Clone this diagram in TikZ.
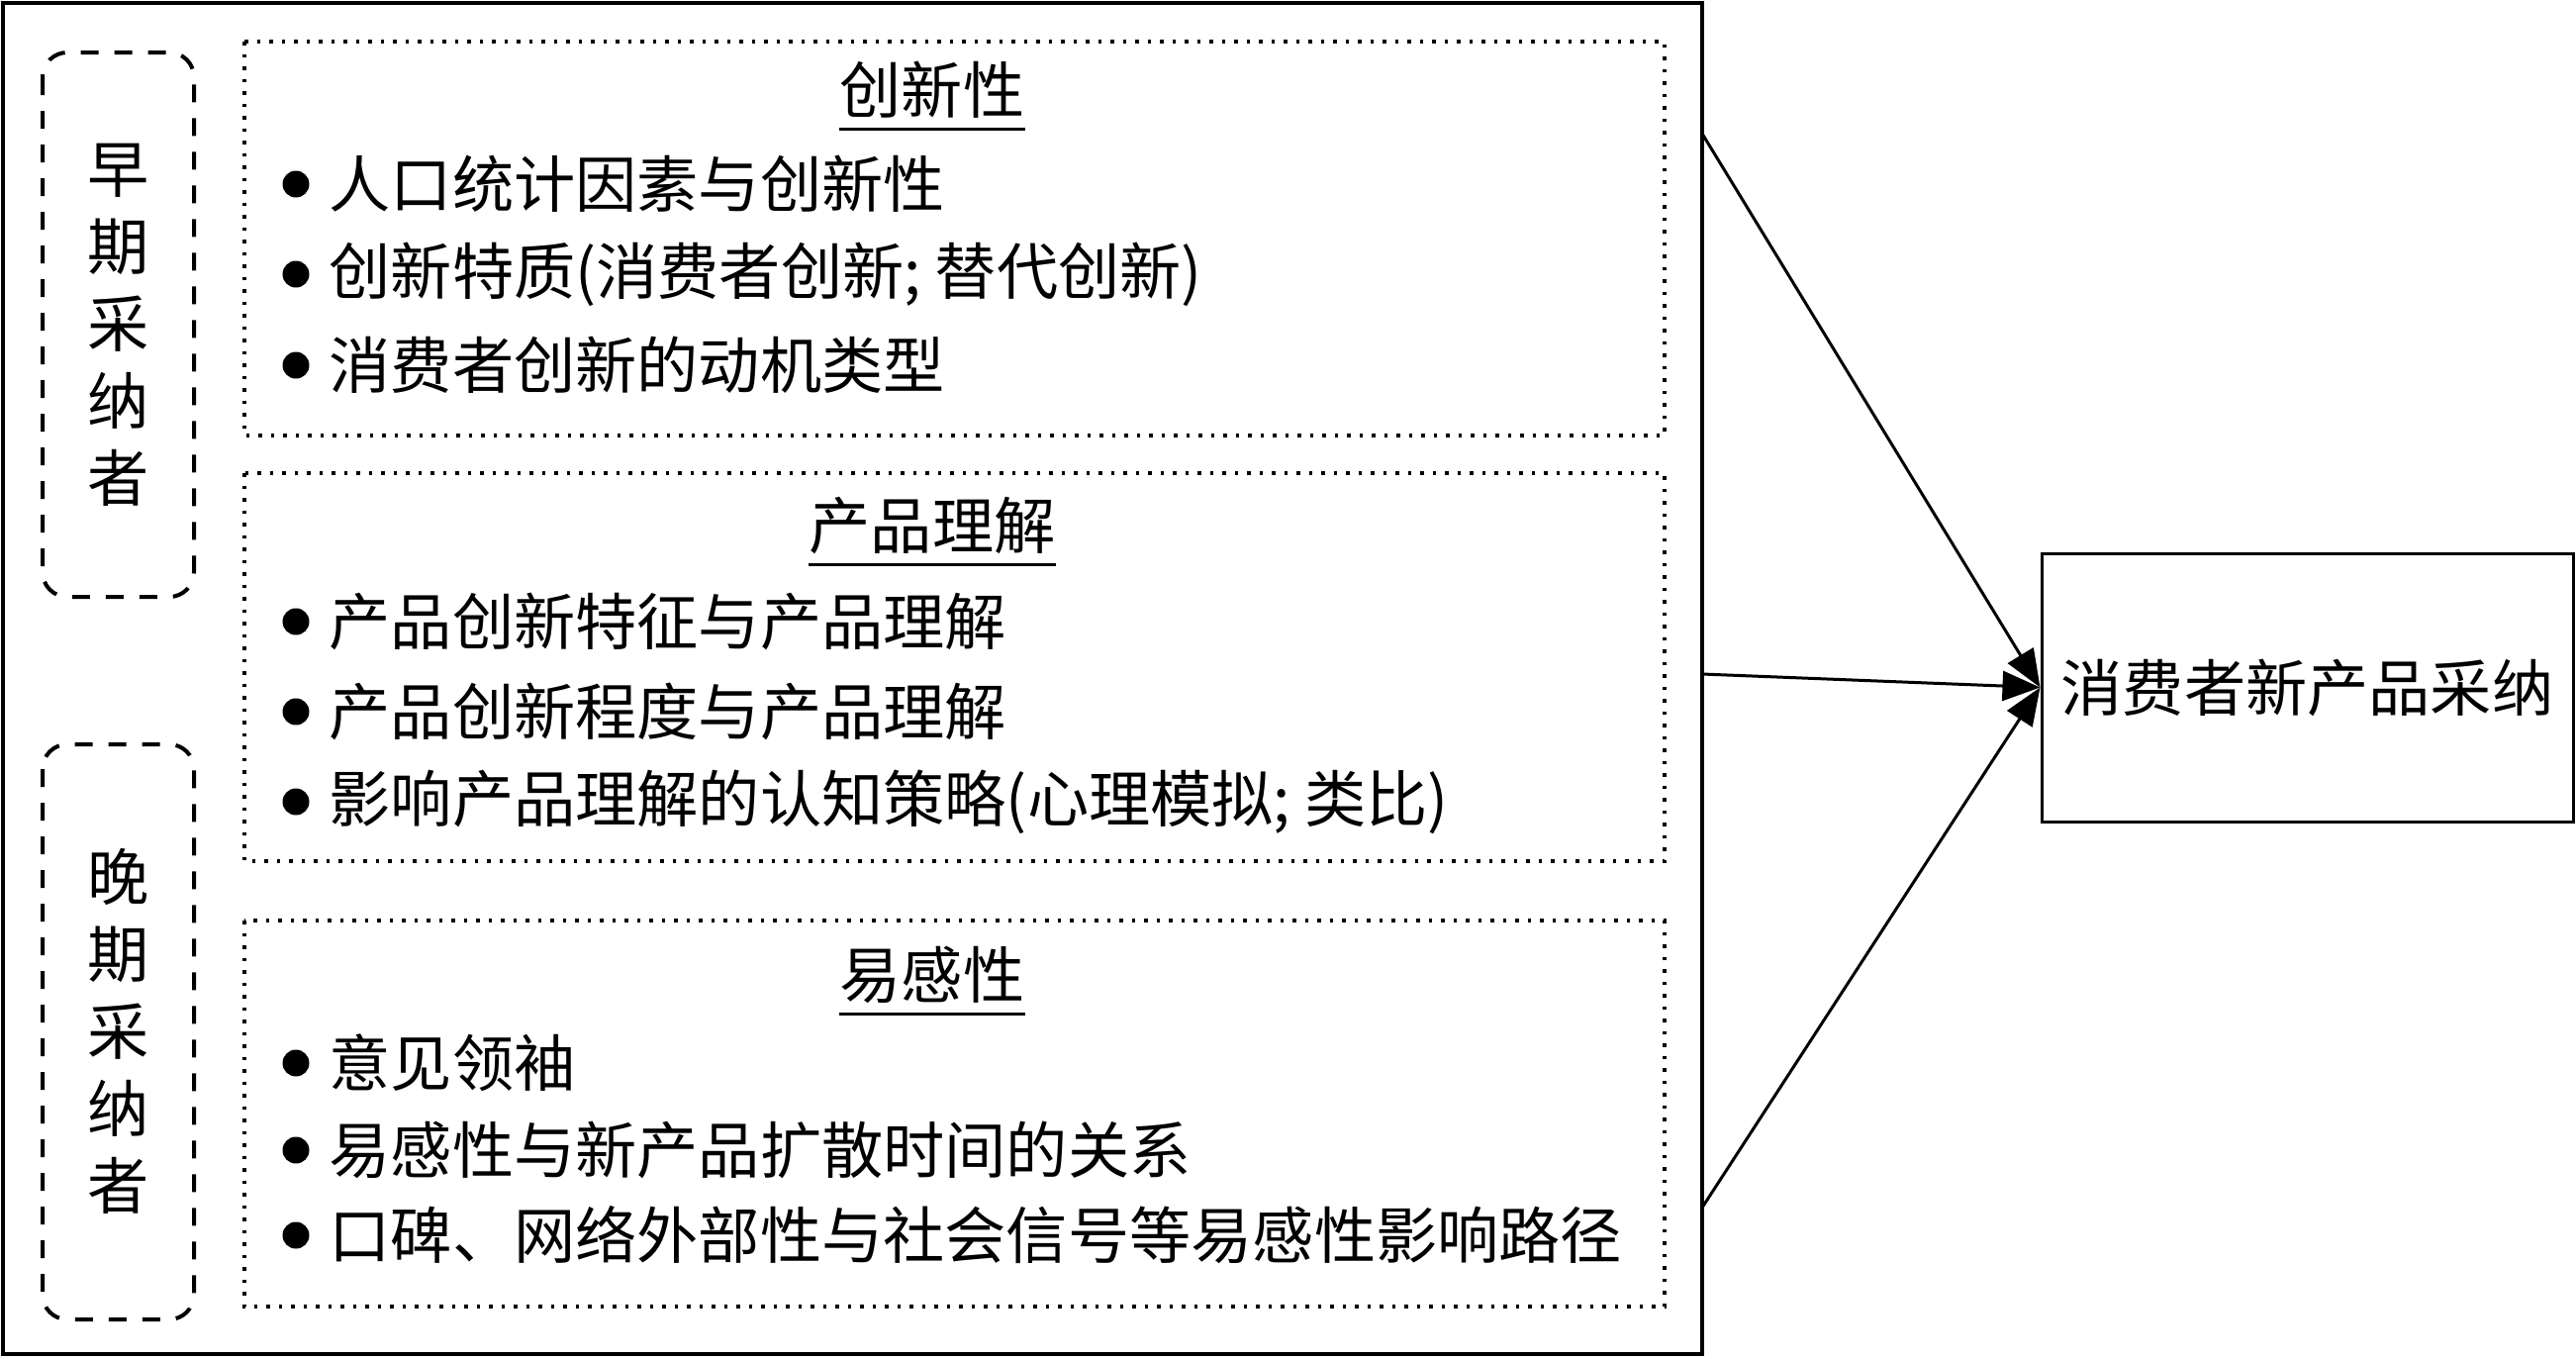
\documentclass[tikz,border=0pt]{standalone}
\usepackage{fontspec}
\newfontfamily\cjk{Noto Sans CJK SC}
\usetikzlibrary{arrows.meta}

\tikzset{
  txt/.style={font=\cjk\fontsize{17.7pt}{22.2pt}\selectfont, inner sep=0pt},
  dot/.style={circle, fill, inner sep=0pt, minimum size=2.7mm},
  stagebox/.style={line width=0.4mm, dash pattern=on 1.8mm off 1.6mm, rounded corners=2.5mm},
  groupbox/.style={line width=0.35mm, dash pattern=on 0.35mm off 0.9mm},
  arr/.style={line width=0.3mm, -{Triangle[length=3.8mm,width=3mm]}}
}

\begin{document}
\begin{tikzpicture}[x=0.1mm, y=-0.1mm]
    \useasboundingbox (0,0) rectangle (2603,1372);

    % 外枠
    \draw[line width=0.33mm] (3,3) rectangle (1720,1368);

    % 採用者の段階
    \draw[stagebox] (43,53) rectangle (196,603);
    \draw[stagebox] (43,752) rectangle (196,1333);
    \node[txt, align=center] (early) at (120,328) {早\\期\\采\\纳\\者};
    \node[txt, align=center] (late) at (120,1042) {晚\\期\\采\\纳\\者};

    % 点線の枠
    \draw[groupbox] (247,42) rectangle (1682,440);
    \draw[groupbox] (247,478) rectangle (1682,870);
    \draw[groupbox] (247,930) rectangle (1682,1320);

    % 見出し
    \node[txt] (t1) at (942,91) {创新性};
    \node[txt] (t2) at (942,531) {产品理解};
    \node[txt] (t3) at (942,985) {易感性};
    \draw[line width=0.3mm] ([yshift=-1mm]t1.south west) -- ([yshift=-1mm]t1.south east);
    \draw[line width=0.3mm] ([yshift=-1mm]t2.south west) -- ([yshift=-1mm]t2.south east);
    \draw[line width=0.3mm] ([yshift=-1mm]t3.south west) -- ([yshift=-1mm]t3.south east);

    % 項目
    \node[dot] (b11) at (299,186) {};
    \node[dot] (b12) at (299,277) {};
    \node[dot] (b13) at (299,369) {};
    \node[txt, anchor=west] (i11) at (332,186) {人口统计因素与创新性};
    \node[txt, anchor=west] (i12) at (332,277) {创新特质(消费者创新; 替代创新)};
    \node[txt, anchor=west] (i13) at (332,369) {消费者创新的动机类型};

    \node[dot] (b21) at (299,628) {};
    \node[dot] (b22) at (299,719) {};
    \node[dot] (b23) at (299,810) {};
    \node[txt, anchor=west] (i21) at (332,628) {产品创新特征与产品理解};
    \node[txt, anchor=west] (i22) at (332,719) {产品创新程度与产品理解};
    \node[txt, anchor=west] (i23) at (332,810) {影响产品理解的认知策略(心理模拟; 类比)};

    \node[dot] (b31) at (299,1074) {};
    \node[dot] (b32) at (299,1162) {};
    \node[dot] (b33) at (299,1248) {};
    \node[txt, anchor=west] (i31) at (332,1074) {意见领袖};
    \node[txt, anchor=west] (i32) at (332,1162) {易感性与新产品扩散时间的关系};
    \node[txt, anchor=west] (i33) at (332,1248) {口碑、网络外部性与社会信号等易感性影响路径};

    % 結果
    \node[draw, line width=0.3mm, txt, minimum width=53.7mm, minimum height=27.1mm] (adopt) at (2331.5,694.5) {消费者新产品采纳};

    % 矢印
    \coordinate (s1) at (1720,135);
    \coordinate (s2) at (1720,681);
    \coordinate (s3) at (1720,1220);
    \draw[arr] (s1) -- (adopt.west);
    \draw[arr] (s2) -- (adopt.west);
    \draw[arr] (s3) -- (adopt.west);
\end{tikzpicture}
\end{document}
